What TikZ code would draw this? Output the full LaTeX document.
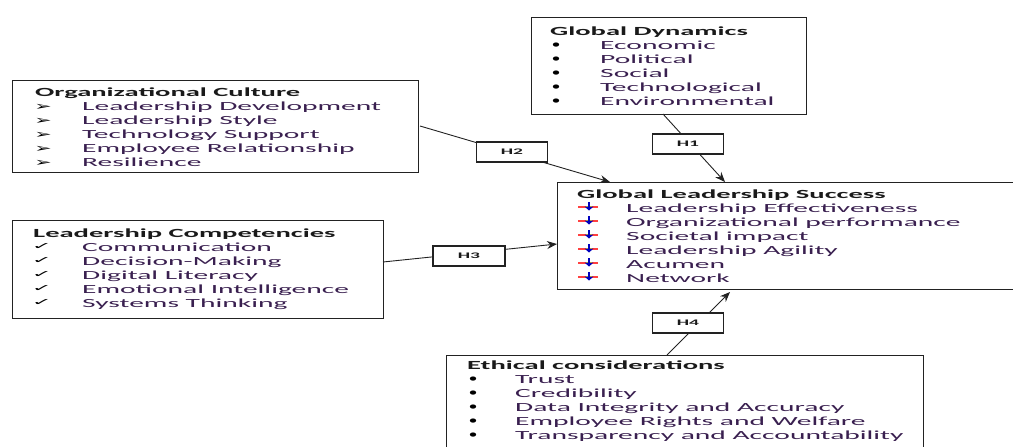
\documentclass[tikz,border=0pt]{standalone}
\usepackage{fontspec}
\setmainfont{Carlito}[FakeStretch=2.3]
\newfontfamily\itemfont{Carlito}[FakeStretch=2.38]
\newfontfamily\symf{DejaVu Sans}
\usetikzlibrary{arrows.meta}
\definecolor{titlec}{HTML}{1A1A1A}
\definecolor{itemc}{HTML}{3A2050}
\definecolor{linec}{HTML}{222222}
\tikzset{
  box/.style={draw=linec, line width=1.4pt, anchor=north west, inner sep=0pt, fill=white},
  ttl/.style={anchor=base west, inner sep=0pt, text=titlec, font=\fontsize{12.4}{14}\selectfont\bfseries},
  itm/.style={anchor=base west, inner sep=0pt, text=itemc, font=\itemfont\fontsize{12.4}{14}\selectfont},
  bul/.style={anchor=base, inner sep=0pt, text=black, font=\symf\bfseries\fontsize{12}{14}\selectfont},
  hbox/.style={draw=linec, line width=1.2pt, fill=white, minimum width=71pt, minimum height=20pt, inner sep=0pt, font=\fontsize{8.5}{10}\selectfont\bfseries, text=titlec},
  conn/.style={draw=linec, line width=0.9pt},
  arr/.style={conn, -{Stealth[length=10pt, width=8pt]}},
  glsicon/.pic={
    \fill[red!75] (-11,-0.9) rectangle (9,0.9);
    \fill[yellow!90!orange] (-3,-1.2) rectangle (3,1.2);
    \fill[blue!75!black] (-4.5,-0.5) -- (4.5,-0.5) -- (0,3.5) -- cycle;
    \fill[blue!75!black] (-1,-5) rectangle (1,-0.5);
  }
}
\begin{document}
\begin{tikzpicture}[x=1pt, y=-1pt]
\useasboundingbox (0,0) rectangle (1013,447);
\clip (0,0) rectangle (1013,447);

% Boxes
\node[box, minimum width=275pt, minimum height=97pt] (gd) at (531,17) {};
\node[box, minimum width=406pt, minimum height=92pt] (oc) at (12,80) {};
\node[box, minimum width=371pt, minimum height=98pt] (lc) at (12,220) {};
\node[box, minimum width=470pt, minimum height=107pt] (gls) at (557,182) {};
\node[box, minimum width=477pt, minimum height=110pt] (ec) at (446,355) {};

% Global Dynamics
\node[ttl] (gdt) at (550,35) {Global Dynamics};
\foreach \t [count=\i] in {Economic,Political,Social,Technological,Environmental}{
  \node[bul] (gdb\i) at (556,35+14*\i) {\scalebox{1.5}[1]{•}};
  \node[itm] (gdi\i) at (600,35+14*\i) {\t};
}

% Organizational Culture
\node[ttl] (oct) at (35,96) {Organizational Culture};
\foreach \t [count=\i] in {Leadership Development,Leadership Style,Technology Support,Employee Relationship,Resilience}{
  \node[bul, font=\symf\fontsize{13}{14}\selectfont] (ocb\i) at (43,96+14*\i) {\scalebox{1.6}[0.9]{➢}};
  \node[itm] (oci\i) at (82,96+14*\i) {\t};
}

% Leadership Competencies
\node[ttl] (lct) at (33,237) {Leadership Competencies};
\foreach \t [count=\i] in {Communication,Decision-Making,Digital Literacy,Emotional Intelligence,Systems Thinking}{
  \node[bul, font=\symf\fontsize{12}{14}\selectfont] (lcb\i) at (42,235+14*\i) {\scalebox{2.0}[0.8]{✓}};
  \node[itm] (lci\i) at (82,237+14*\i) {\t};
}

% Global Leadership Success
\node[ttl] (glst) at (577,198) {Global Leadership Success};
\foreach \t [count=\i] in {Leadership Effectiveness,Organizational performance,Societal impact,Leadership Agility,Acumen,Network}{
  \pic at (589,193+14*\i) {glsicon};
  \node[itm] (glsi\i) at (626,198+14*\i) {\t};
}

% Ethical considerations
\node[ttl] (ect) at (467,369) {Ethical considerations};
\foreach \t [count=\i] in {Trust,Credibility,Data Integrity and Accuracy,Employee Rights and Welfare,Transparency and Accountability}{
  \node[bul] (ecb\i) at (473,369+14*\i) {\scalebox{1.5}[1]{•}};
  \node[itm] (eci\i) at (515,369+14*\i) {\t};
}

% Connector end points
\coordinate (h1a) at (663,114);
\coordinate (h1b) at (725,182);
\coordinate (h2a) at (420,126);
\coordinate (h2b) at (610,182);
\coordinate (h3a) at (383,262);
\coordinate (h3b) at (557,244);
\coordinate (h4a) at (667,355);
\coordinate (h4b) at (730,292);

\draw[arr] (h1a) -- (h1b);
\draw[arr] (h2a) -- (h2b);
\draw[arr] (h3a) -- (h3b);
\draw[arr] (h4a) -- (h4b);

\node[hbox] (h1) at (688,144) {H1};
\node[hbox] (h2) at (512,152) {H2};
\node[hbox, minimum width=72pt] (h3) at (469,256) {H3};
\node[hbox] (h4) at (688,323) {H4};
\end{tikzpicture}
\end{document}
